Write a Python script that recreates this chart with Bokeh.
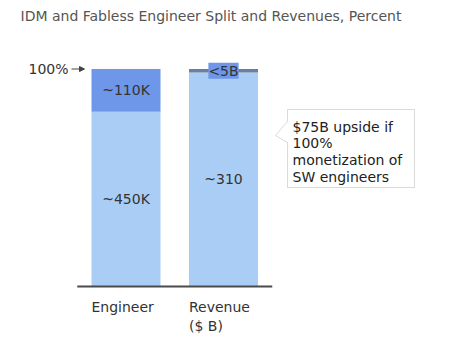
from bokeh.plotting import figure
from bokeh.models import Range1d, Label, PolyAnnotation, Arrow, NormalHead, ColumnDataSource
from bokeh.core.properties import value
from bokeh.embed import file_html
from bokeh.resources import INLINE

# ---- data ----
categories = ["Engineer", "Revenue"]
axis_labels = ["Engineer", "Revenue\n($ B)"]
base_values = [450, 310]          # ~450K engineers, ~310 $B
top_values = [110, 5]             # ~110K engineers, <5 $B
base_labels = ["~450K", "~310"]
top_labels = ["~110K", "<5B"]
title_text = "IDM and Fabless Engineer Split and Revenues, Percent"
callout_lines = ["$75B upside if", "100%", "monetization of", "SW engineers"]

totals = [b + t for b, t in zip(base_values, top_values)]
base_pct = [100.0 * b / s for b, s in zip(base_values, totals)]
top_pct = [100.0 * t / s for t, s in zip(top_values, totals)]

# ---- layout helpers (pixel layout -> data units) ----
W, H = 450, 338
X0_PX, DX_PX = 125.5, 97.5      # first category centre, spacing
Y0_PX, K = 286.0, 2.175         # baseline pixel, px per percent


def px_x(px):
    return (px - X0_PX) / DX_PX


def px_y(py):
    return (Y0_PX - py) / K


p = figure(width=W, height=H, output_backend="svg", toolbar_location=None,
           x_range=Range1d(px_x(0), px_x(W)), y_range=Range1d(px_y(H), px_y(0)),
           x_axis_type=None, y_axis_type=None, min_border=0)
p.outline_line_color = None
p.grid.visible = False
p.background_fill_color = "white"

xs = list(range(len(categories)))
LIGHT = "#aacdf6"
DARK = "#6e97e9"
FONT = "DejaVu Sans"

src = ColumnDataSource(dict(
    x=xs,
    base=base_pct,
    top_bottom=base_pct,
    top_top=[b + t for b, t in zip(base_pct, top_pct)],
    top_color=[DARK, "#6b7ea8"],
    base_mid=[b / 2 for b in base_pct],
    top_mid=[b + t / 2 for b, t in zip(base_pct, top_pct)],
    base_label=base_labels,
))
bw = 69 / DX_PX
p.vbar(x="x", bottom=0, top="base", width=bw, source=src, fill_color=LIGHT, line_color=None)
p.vbar(x="x", bottom="top_bottom", top="top_top", width=bw, source=src,
       fill_color="top_color", line_color=None)

p.text(x="x", y="base_mid", text="base_label", source=src, text_align="center",
       text_baseline="middle", text_font=value(FONT), text_font_size="14px", text_color="#333333")

# top labels
p.add_layout(Label(x=xs[0], y=base_pct[0] + top_pct[0] / 2, text=top_labels[0],
                   text_align="center", text_baseline="middle", text_font=FONT,
                   text_font_size="14px", text_color="#333333"))
p.add_layout(Label(x=xs[1], y=base_pct[1] + top_pct[1] / 2, text=top_labels[1],
                   text_align="center", text_baseline="middle", text_font=FONT,
                   text_font_size="14px", text_color="#333333",
                   background_fill_color=DARK, x_offset=0))

# baseline
p.segment(x0=[xs[0] - 0.5], y0=[0], x1=[xs[-1] + 0.5], y1=[0], line_color="#4a4a4a", line_width=2)

# category labels (left aligned with bars)
for x, lab in zip(xs, axis_labels):
    p.text(x=[x - bw / 2], y=[px_y(298)], text=[lab], text_align="left", text_baseline="top",
           text_font=value(FONT), text_font_size="14px", text_color="#333333",
           text_line_height=1.2)

# 100% marker
p.add_layout(Label(x=px_x(68), y=100, text="100%", text_align="right", text_baseline="middle",
                   text_font=FONT, text_font_size="14px", text_color="#333333"))
p.add_layout(Arrow(x_start=px_x(71), y_start=100, x_end=px_x(84), y_end=100,
                   line_color="#444444", line_width=1,
                   end=NormalHead(size=5, line_color="#444444", fill_color="#444444")))

# title
p.add_layout(Label(x=px_x(20), y=px_y(15), text=title_text, text_align="left",
                   text_baseline="middle", text_font=FONT, text_font_size="14px",
                   text_color="#555555"))

# callout box
bx0, bx1, by0, by1 = 287, 414, 109, 187
poly_px = [(bx0, by0), (bx1, by0), (bx1, by1), (bx0, by1), (bx0, 142), (275, 135), (bx0, 121)]
p.add_layout(PolyAnnotation(xs=[px_x(a) for a, b in poly_px], ys=[px_y(b) for a, b in poly_px],
                            fill_color="white", fill_alpha=1, line_color="#858585", line_width=1))
for i, line in enumerate(callout_lines):
    p.add_layout(Label(x=px_x(292), y=px_y(126 + 16.8 * i), text=line, text_align="left",
                       text_baseline="middle", text_font=FONT, text_font_size="14px",
                       text_color="#222222"))

open("out.html", "w").write(file_html(p, INLINE))
